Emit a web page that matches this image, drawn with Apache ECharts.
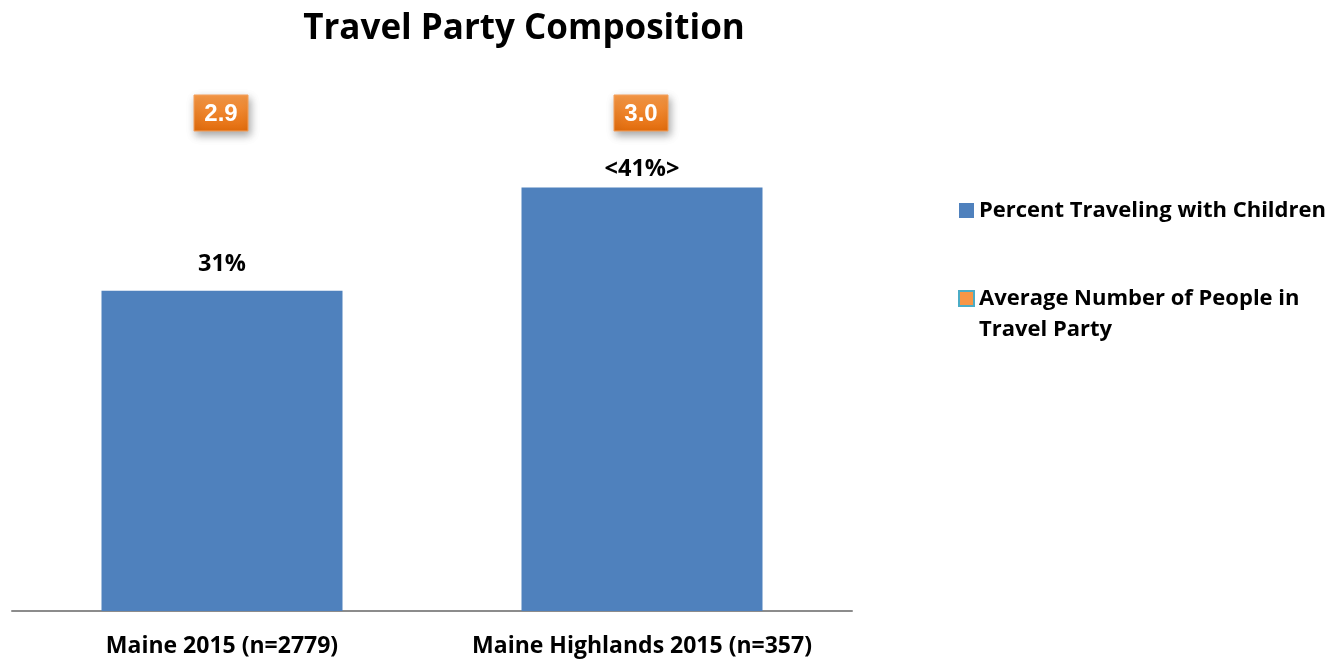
<!DOCTYPE html>
<html>
<head>
<meta charset="utf-8">
<script src="https://cdn.jsdelivr.net/npm/echarts@6/dist/echarts.min.js"></script>
<style>
  html, body { margin: 0; padding: 0; background: #fff; }
  #chart { width: 1334px; height: 659px; }
</style>
</head>
<body>
<div id="chart"></div>
<script>
// Travel party composition: share of parties with children and average party size
const categories = ['Maine 2015 (n=2779)', 'Maine Highlands 2015 (n=357)'];
const pctWithChildren = [31, 41];
const significant = [false, true];      // marked with <...> in the label
const avgPartySize = [2.9, 3.0];
const seriesNames = ['Percent Traveling with Children', 'Average Number of People in Travel Party'];

const FONT = '"Open Sans", Lato, sans-serif';
const labelGap = [14, 6];               // label offset above each bar, px
const chart = echarts.init(document.getElementById('chart'));

chart.setOption({
  backgroundColor: '#ffffff',
  animation: false,
  title: {
    text: 'Travel Party Composition',
    left: 519,
    textAlign: 'center',
    top: 7,
    textStyle: { fontFamily: FONT, fontWeight: 'bold', fontSize: 35, color: '#000' }
  },
  legend: {
    orient: 'vertical',
    left: 953,
    top: 190,
    itemWidth: 15,
    itemHeight: 15,
    itemGap: 26,
    selectedMode: false,
    // the leading empty line keeps the icon level with the first text line
    formatter: function (name) {
      return name === seriesNames[1] ? '\nAverage Number of People in\nTravel Party' : name;
    },
    textStyle: { fontFamily: FONT, fontWeight: 'bold', fontSize: 22, color: '#000', lineHeight: 31 },
    data: [
      { name: seriesNames[0], icon: 'rect', itemStyle: { color: '#4F81BD', borderWidth: 0 } },
      { name: seriesNames[1], icon: 'rect',
        itemStyle: { color: '#F79646', borderColor: '#4BACC6', borderWidth: 2 } }
    ]
  },
  grid: { left: 12, right: 482, top: 94.5, bottom: 48, containLabel: false },
  xAxis: {
    type: 'category',
    data: categories,
    axisLine: { lineStyle: { color: '#8c8c8c', width: 2 } },
    axisTick: { show: false },
    axisLabel: {
      interval: 0,
      hideOverlap: false,
      margin: 24,
      fontFamily: FONT, fontWeight: 'bold', fontSize: 23, color: '#000'
    }
  },
  yAxis: {
    type: 'value',
    min: 0,
    max: 50,
    show: false,
    splitLine: { show: false }
  },
  series: [
    {
      name: seriesNames[0],
      type: 'bar',
      data: pctWithChildren.map(function (v, i) {
        return { value: v, label: { distance: labelGap[i] } };
      }),
      barWidth: 241,
      itemStyle: { color: '#4F81BD' },
      label: {
        show: true,
        position: 'top',
        fontFamily: FONT, fontWeight: 'bold', fontSize: 23.5, color: '#000',
        formatter: function (p) {
          const t = p.value + '%';
          return significant[p.dataIndex] ? '<' + t + '>' : t;
        }
      }
    },
    {
      name: seriesNames[1],
      type: 'custom',
      data: avgPartySize.map(function (v, i) { return [i, v]; }),
      itemStyle: { color: '#F79646' },
      renderItem: function (params, api) {
        const top = api.coord([api.value(0), 50]);
        const w = 54, h = 36;
        const x = top[0] - w / 2 - 1;
        const y = top[1] + 0.5;
        return {
          type: 'group',
          children: [
            {
              type: 'rect',
              shape: { x: x, y: y, width: w, height: h },
              style: {
                fill: new echarts.graphic.LinearGradient(0, 0, 0, 1, [
                  { offset: 0, color: '#F89A48' },
                  { offset: 1, color: '#E36C0C' }
                ]),
                stroke: '#F4A05C',
                lineWidth: 1,
                shadowBlur: 8,
                shadowOffsetX: 2,
                shadowOffsetY: 4,
                shadowColor: 'rgba(0,0,0,0.35)'
              }
            },
            {
              type: 'text',
              style: {
                x: x + w / 2,
                y: y + h / 2 + 1,
                text: api.value(1).toFixed(1),
                align: 'center',
                verticalAlign: 'middle',
                fill: '#ffffff',
                font: 'bold 24px "Liberation Sans", Arial, sans-serif'
              }
            }
          ]
        };
      }
    }
  ]
});
</script>
</body>
</html>
